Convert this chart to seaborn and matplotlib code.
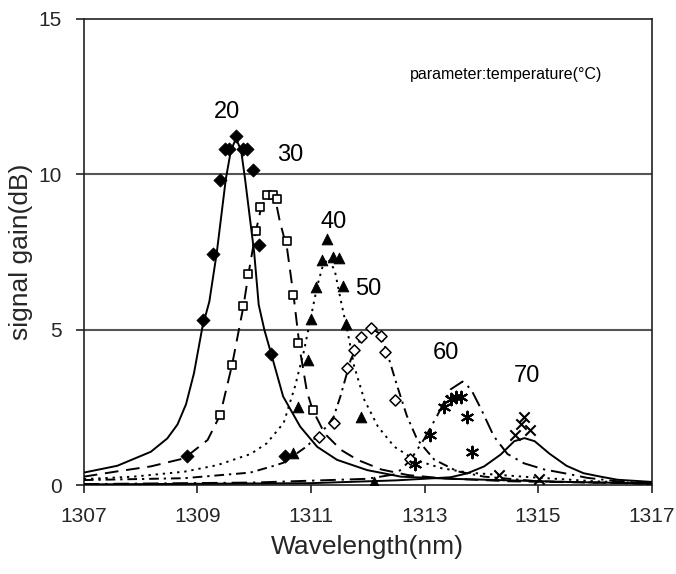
import numpy as np
import pandas as pd
import matplotlib
matplotlib.use("Agg")
import matplotlib.pyplot as plt
import seaborn as sns

# fitted curves (wavelength nm, gain dB)
line20_x = [1307.0, 1307.59, 1308.18, 1308.47, 1308.65, 1308.8, 1308.94, 1309.09, 1309.21, 1309.34,
            1309.50, 1309.59, 1309.68, 1309.77, 1309.84, 1310.0, 1310.08, 1310.18, 1310.30, 1310.51,
            1310.81, 1311.11, 1311.46, 1311.99, 1312.58, 1313.46, 1314.5, 1315.5, 1317.0]
line20_y = [0.40, 0.62, 1.07, 1.5, 1.95, 2.6, 3.6, 5.1, 5.9, 7.46,
            9.84, 10.77, 11.15, 10.77, 9.84, 7.48, 5.8, 4.99, 4.22, 2.85,
            1.88, 1.23, 0.81, 0.48, 0.27, 0.2, 0.15, 0.1, 0.05]

line30_x = [1307.0, 1307.59, 1308.18, 1308.77, 1309.18, 1309.40, 1309.61, 1309.81, 1309.90, 1310.03,
            1310.12, 1310.22, 1310.35, 1310.45, 1310.58, 1310.70, 1310.81, 1310.93, 1311.03, 1311.24,
            1311.53, 1311.82, 1312.24, 1312.71, 1313.30, 1314.5, 1317.0]
line30_y = [0.27, 0.44, 0.6, 0.86, 1.45, 2.25, 3.86, 5.74, 6.8, 8.17,
            8.9, 9.3, 9.4, 8.5, 7.6, 6.0, 4.3, 3.0, 2.42, 1.66,
            1.13, 0.81, 0.5, 0.32, 0.22, 0.12, 0.05]

line40_x = [1307.0, 1307.88, 1308.77, 1309.35, 1309.94, 1310.22, 1310.52, 1310.72, 1310.87, 1310.99,
            1311.11, 1311.2, 1311.3, 1311.42, 1311.53, 1311.65, 1311.76, 1311.94, 1312.18, 1312.47,
            1312.83, 1313.30, 1313.77, 1314.29, 1314.88, 1316.0, 1317.0]
line40_y = [0.19, 0.27, 0.43, 0.64, 1.0, 1.34, 2.0, 3.18, 4.26, 5.33,
            6.4, 7.0, 7.3, 6.9, 5.9, 4.89, 3.83, 2.74, 1.88, 1.23,
            0.81, 0.54, 0.4, 0.33, 0.25, 0.12, 0.05]

line50_x = [1307.0, 1308.77, 1309.93, 1310.35, 1310.52, 1310.93, 1311.28, 1311.40, 1311.52, 1311.70,
            1311.87, 1312.05, 1312.23, 1312.34, 1312.52, 1312.69, 1312.87, 1313.17, 1313.58, 1314.05,
            1315.0, 1317.0]
line50_y = [0.16, 0.22, 0.4, 0.62, 0.72, 1.25, 1.89, 2.2, 2.86, 4.03,
            4.69, 5.06, 4.85, 4.26, 3.18, 2.22, 1.47, 0.82, 0.44, 0.27,
            0.12, 0.04]

line60_x = [1307.0, 1310.0, 1311.99, 1312.5, 1312.75, 1312.99, 1313.22, 1313.46, 1313.67, 1313.82,
            1314.0, 1314.22, 1314.46, 1314.75, 1315.11, 1315.52, 1315.87, 1316.4, 1317.0]
line60_y = [0.03, 0.08, 0.2, 0.35, 0.8, 1.47, 2.22, 3.08, 3.33, 3.08,
            2.43, 1.57, 1.0, 0.7, 0.5, 0.36, 0.23, 0.12, 0.05]

line70_x = [1307.0, 1311.0, 1312.5, 1313.46, 1313.76, 1314.05, 1314.34, 1314.58, 1314.76, 1314.94,
            1315.2, 1315.5, 1315.8, 1316.1, 1316.4, 1317.0]
line70_y = [0.02, 0.06, 0.15, 0.25, 0.38, 0.6, 0.98, 1.41, 1.51, 1.41,
            1.01, 0.62, 0.38, 0.27, 0.17, 0.1]

# measured points
pts20_x = [1308.81, 1309.09, 1309.27, 1309.39, 1309.49, 1309.56, 1309.68, 1309.81, 1309.88, 1309.98,
           1310.09, 1310.30, 1310.55]
pts20_y = [0.93, 5.30, 7.43, 9.83, 10.8, 10.8, 11.22, 10.8, 10.8, 10.15, 7.72, 4.22, 0.93]

pts30_x = [1309.40, 1309.61, 1309.81, 1309.90, 1310.03, 1310.10, 1310.22, 1310.34, 1310.40, 1310.58,
           1310.68, 1310.77, 1311.03]
pts30_y = [2.25, 3.86, 5.77, 6.8, 8.17, 8.95, 9.34, 9.34, 9.21, 7.85, 6.1, 4.58, 2.42]

pts40_x = [1310.68, 1310.78, 1310.94, 1311.0, 1311.09, 1311.19, 1311.28, 1311.38, 1311.49, 1311.56,
           1311.62, 1311.88, 1312.11]
pts40_y = [1.02, 2.52, 4.03, 5.33, 6.38, 7.23, 7.91, 7.35, 7.32, 6.41, 5.17, 2.18, 0.11]

pts50_x = [1311.14, 1311.40, 1311.63, 1311.75, 1311.88, 1312.06, 1312.23, 1312.31, 1312.48, 1312.74]
pts50_y = [1.56, 2.0, 3.77, 4.36, 4.77, 5.05, 4.81, 4.28, 2.75, 0.83]

pts60_x = [1312.84, 1313.09, 1313.34, 1313.46, 1313.56, 1313.64, 1313.75, 1313.84]
pts60_y = [0.67, 1.61, 2.51, 2.76, 2.83, 2.84, 2.18, 1.05]

pts70_x = [1314.31, 1314.60, 1314.70, 1314.75, 1314.85, 1315.01]
pts70_y = [0.32, 1.61, 1.95, 2.19, 1.76, 0.2]

temps = ["20", "30", "40", "50", "60", "70"]
label_x = [1309.52, 1310.63, 1311.40, 1312.0, 1313.38, 1314.80]
label_y = [12.0, 10.63, 8.48, 6.30, 4.24, 3.51]

sns.set_theme(style="ticks")
plt.rcParams['font.family'] = ['Liberation Sans', 'DejaVu Sans']

fig = plt.figure(figsize=(6.76, 5.74), dpi=100)
ax = fig.add_axes([0.124, 0.155, 0.84, 0.812])

lines = [(line20_x, line20_y, '-'),
         (line30_x, line30_y, (0, (7, 4))),
         (line40_x, line40_y, (0, (1.2, 2.5))),
         (line50_x, line50_y, (0, (5, 2.5, 1.2, 2.5))),
         (line60_x, line60_y, (0, (8, 3, 1.2, 3))),
         (line70_x, line70_y, '-')]
for t, (lx, ly, ls) in zip(temps, lines):
    df = pd.DataFrame({'wl': lx, 'gain': ly})
    sns.lineplot(data=df, x='wl', y='gain', ax=ax, color='black', lw=1.4,
                 linestyle=ls, sort=False, zorder=3)

points = [(pts20_x, pts20_y, dict(marker='D', s=45, color='black', edgecolor='black')),
          (pts30_x, pts30_y, dict(marker='s', s=38, facecolor='white', edgecolor='black', linewidth=1.2)),
          (pts40_x, pts40_y, dict(marker='^', s=60, color='black', edgecolor='black')),
          (pts50_x, pts50_y, dict(marker='D', s=32, facecolor='white', edgecolor='black', linewidth=1.1)),
          (pts60_x, pts60_y, dict(marker=(6, 2, 0), s=70, color='black', linewidth=1.5)),
          (pts70_x, pts70_y, dict(marker='x', s=55, color='black', linewidth=1.5))]
for px, py, kw in points:
    df = pd.DataFrame({'wl': px, 'gain': py})
    sns.scatterplot(data=df, x='wl', y='gain', ax=ax, zorder=4, **kw)

for t, tx, ty in zip(temps, label_x, label_y):
    ax.text(tx, ty, t, ha='center', va='center', fontsize=17, color='black')
ax.text(1314.43, 13.2, "parameter:temperature(°C)", ha='center', va='center',
        fontsize=11.5, color='black')

ax.set_xlim(1307, 1317)
ax.set_ylim(0, 15)
ax.set_xticks(np.arange(1307, 1318, 2))
ax.set_yticks([0, 5, 10, 15])
for g in [5, 10]:
    ax.axhline(g, color='#555555', lw=1.5, zorder=1)
for sp in ax.spines.values():
    sp.set_color('#222222')
    sp.set_linewidth(1.2)
ax.tick_params(axis='both', labelsize=15, length=6, width=1.2, color='#222222', pad=10)
ax.set_xlabel("Wavelength(nm)", fontsize=19, labelpad=6)
ax.set_ylabel("signal gain(dB)", fontsize=19, labelpad=4)

fig.savefig("out.png", dpi=100)
